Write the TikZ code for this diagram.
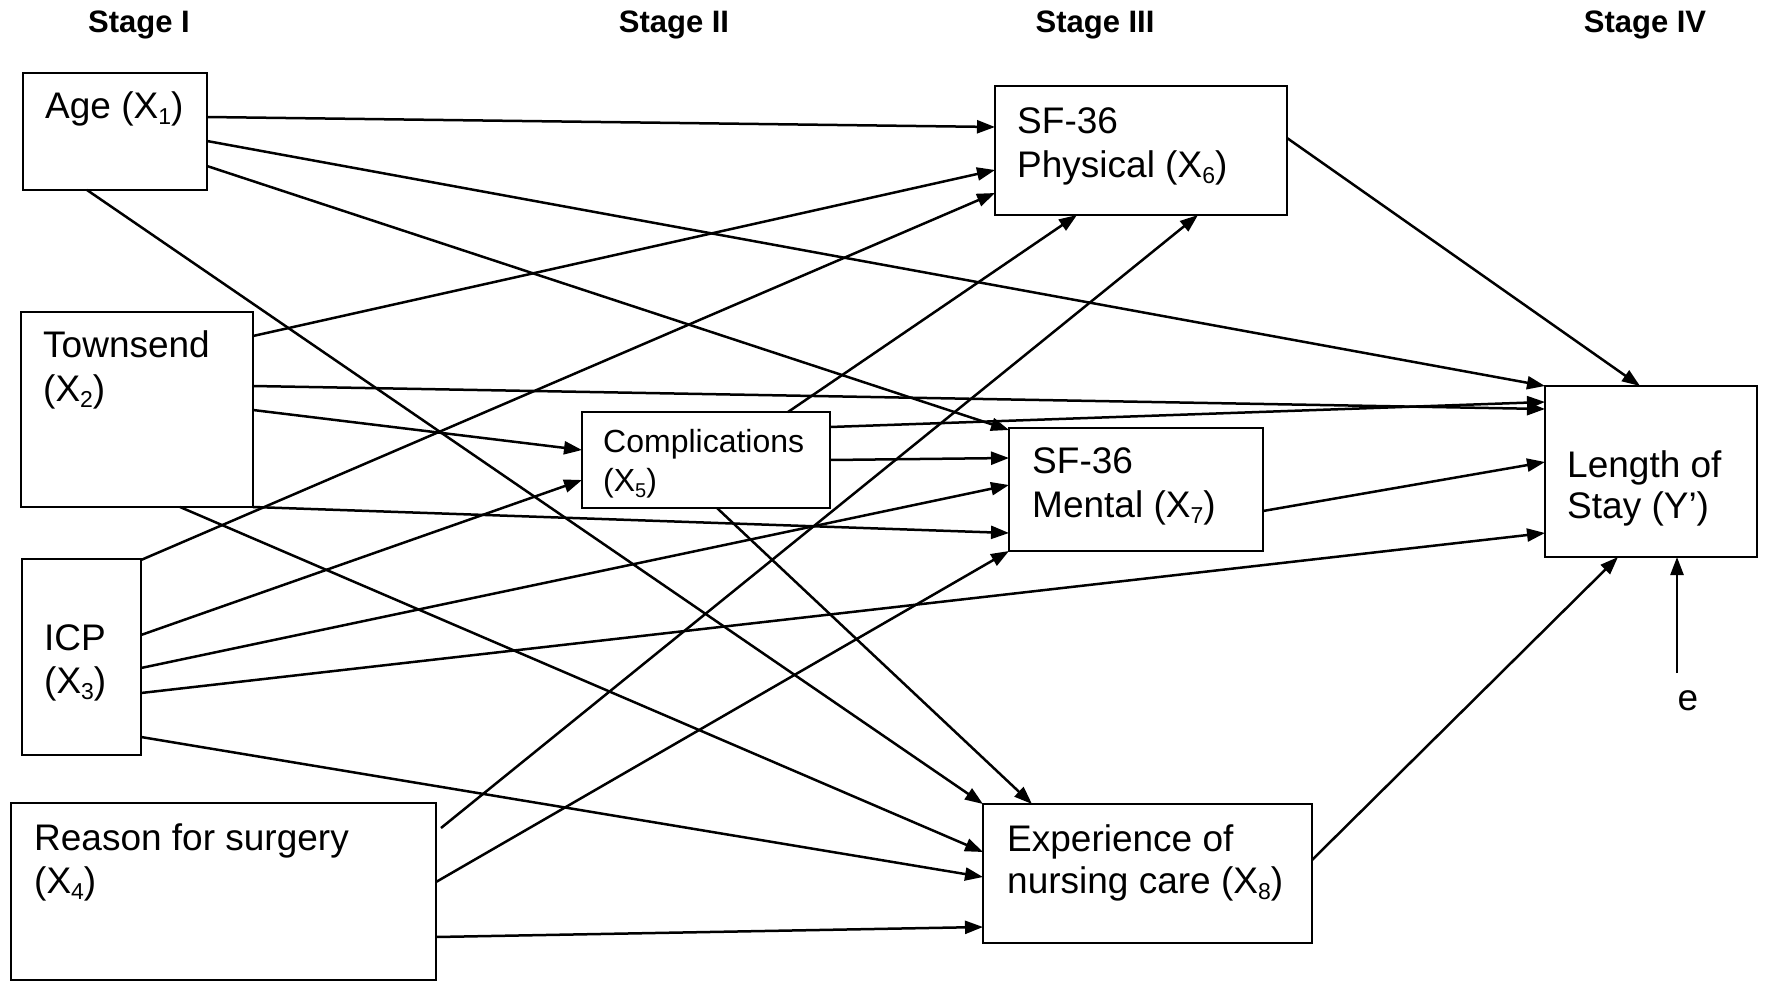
\documentclass[tikz,border=0pt]{standalone}
\usepackage{fontspec}
\setmainfont{Liberation Sans}
\usetikzlibrary{arrows.meta,calc}
% lowered index digit, e.g. X\subidx{1}
\newcommand{\subidx}[2][23]{\raisebox{-6pt}{\fontsize{#1}{#1}\selectfont #2}}
\begin{document}
\begin{tikzpicture}[x=1pt,y=-1pt,
  box/.style={draw, line width=2.7pt, rectangle, anchor=north west, inner sep=0pt, outer sep=0pt},
  lbl/.style={anchor=base west, inner sep=0pt, font=\fontsize{37}{43}\selectfont},
  smalllbl/.style={anchor=base west, inner sep=0pt, font=\fontsize{32}{38}\selectfont},
  stagelbl/.style={anchor=base, inner sep=0pt, font=\fontsize{31}{36}\selectfont\bfseries},
  arr/.style={line width=2.5pt, -{Triangle[length=18pt,width=13pt]}},
]
\useasboundingbox (0,0) rectangle (1766,982);

% stage headings
\node[stagelbl] (st1) at (139,33) {Stage I};
\node[stagelbl] (st2) at (674,33) {Stage II};
\node[stagelbl] (st3) at (1095,33) {Stage III};
\node[stagelbl] (st4) at (1645,33) {Stage IV};

% boxes
\node[box, minimum width=184pt, minimum height=117pt] (age)    at (23,73)   {};
\node[box, minimum width=232pt, minimum height=195pt] (town)   at (21,312)  {};
\node[box, minimum width=119pt, minimum height=196pt] (icp)    at (22,559)  {};
\node[box, minimum width=425pt, minimum height=177pt] (reason) at (11,803)  {};
\node[box, minimum width=248pt, minimum height=96pt]  (comp)   at (582,412) {};
\node[box, minimum width=292pt, minimum height=129pt] (phys)   at (995,86)  {};
\node[box, minimum width=254pt, minimum height=123pt] (mental) at (1009,428) {};
\node[box, minimum width=329pt, minimum height=139pt] (exp)    at (983,804) {};
\node[box, minimum width=212pt, minimum height=171pt] (los)    at (1545,386) {};

% box texts
\node[lbl] (agetxt) at (45,118) {Age (X\subidx{1})};
\node[lbl] (towntxta) at (43,357) {Townsend};
\node[lbl] (towntxtb) at (43,401) {(X\subidx{2})};
\node[lbl] (icptxta) at (44,650) {ICP};
\node[lbl] (icptxtb) at (44,693) {(X\subidx{3})};
\node[lbl] (reasontxta) at (34,850) {Reason for surgery};
\node[lbl] (reasontxtb) at (34,893) {(X\subidx{4})};
\node[smalllbl] (comptxta) at (603,452) {Complications};
\node[smalllbl] (comptxtb) at (603,491) {(X\subidx[20]{5})};
\node[lbl] (phystxta) at (1017,133) {SF-36};
\node[lbl] (phystxtb) at (1017,177) {Physical (X\subidx{6})};
\node[lbl] (menttxta) at (1032,473) {SF-36};
\node[lbl] (menttxtb) at (1032,517) {Mental (X\subidx{7})};
\node[lbl] (exptxta) at (1007,851) {Experience of};
\node[lbl] (exptxtb) at (1007,893) {nursing care (X\subidx{8})};
\node[lbl] (lostxta) at (1567,477) {Length of};
\node[lbl] (lostxtb) at (1567,518) {Stay (Y’)};
\node[lbl, anchor=base] (err) at (1688,710) {e};
\coordinate (errtop) at (1677,673);

% Age
\draw[arr] ($(age.north east)+(0,44)$) -- ($(phys.north west)+(0,41)$);
\draw[arr] ($(age.north east)+(0,68)$) -- ($(los.north west)+(0,0)$);
\draw[arr] ($(age.north east)+(0,93)$) -- ($(mental.north west)+(0,2)$);
\draw[arr] ($(age.south west)+(64,0)$) -- (exp.north west);
% Townsend
\draw[arr] ($(town.north east)+(0,24)$) -- ($(phys.north west)+(0,84)$);
\draw[arr] ($(town.north east)+(0,74)$) -- ($(los.north west)+(0,23)$);
\draw[arr] ($(town.north east)+(0,98)$) -- ($(comp.north west)+(0,38)$);
\draw[arr] (town.south east) -- ($(mental.north west)+(0,105)$);
\draw[arr] ($(town.south west)+(159,0)$) -- ($(exp.north west)+(0,48)$);
% ICP
\draw[arr] ($(icp.north east)+(0,1)$) -- ($(phys.north west)+(0,107)$);
\draw[arr] ($(icp.north east)+(0,76)$) -- ($(comp.north west)+(0,68)$);
\draw[arr] ($(icp.north east)+(0,109)$) -- ($(mental.north west)+(0,57)$);
\draw[arr] ($(icp.north east)+(0,134)$) -- ($(los.north west)+(0,147)$);
\draw[arr] ($(icp.north east)+(0,178)$) -- ($(exp.north west)+(0,73)$);
% Reason for surgery
\draw[arr] ($(reason.north east)+(5,25)$) -- ($(phys.south west)+(203,0)$);
\draw[arr] ($(reason.north east)+(0,79)$) -- (mental.south west);
\draw[arr] ($(reason.north east)+(0,134)$) -- ($(exp.north west)+(0,123)$);
% Complications
\draw[arr] ($(comp.north west)+(206,0)$) -- ($(phys.south west)+(82,0)$);
\draw[arr] ($(comp.north east)+(0,15)$) -- ($(los.north west)+(0,16)$);
\draw[arr] ($(comp.north east)+(0,48)$) -- ($(mental.north west)+(0,30)$);
\draw[arr] ($(comp.south west)+(135,0)$) -- ($(exp.north west)+(49,0)$);
% Stage III to Stage IV
\draw[arr] ($(phys.north east)+(0,52)$) -- ($(los.north west)+(95,0)$);
\draw[arr] ($(mental.north east)+(0,83)$) -- ($(los.north west)+(0,76)$);
\draw[arr] ($(exp.north east)+(0,56)$) -- ($(los.south west)+(73,0)$);
\draw[arr] (errtop) -- ($(los.south west)+(132,0)$);
\end{tikzpicture}
\end{document}
